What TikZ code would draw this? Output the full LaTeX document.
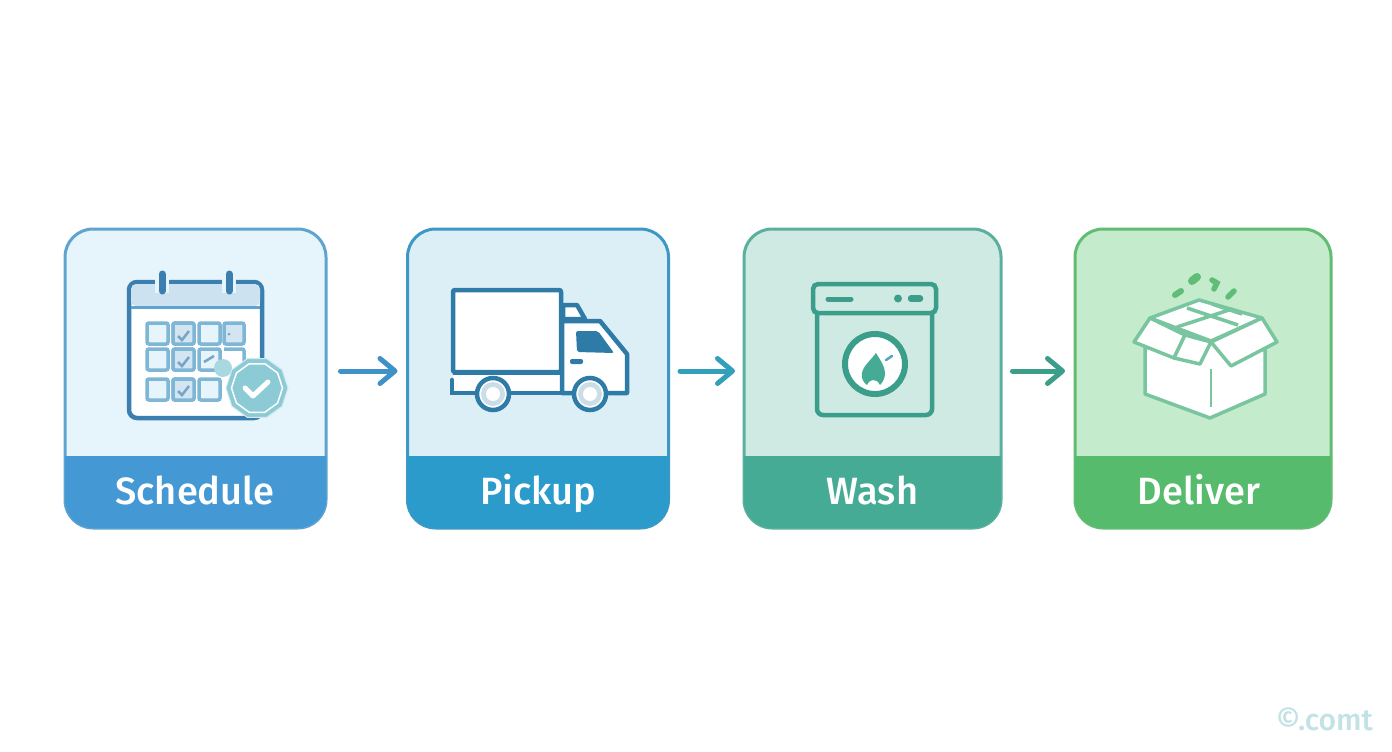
\documentclass[tikz,border=0pt]{standalone}
\usepackage{fontspec}
\usepackage{xcolor}
\usepackage{tikz}
\usetikzlibrary{arrows.meta,shapes.geometric}
\setmainfont{Open Sans}
\newfontfamily\cardfont{Fira Sans Medium}
\definecolor{schedline}{HTML}{5FA3D0}
\definecolor{schedfill}{HTML}{E6F4FB}
\definecolor{schedband}{HTML}{4499D4}
\definecolor{pickline}{HTML}{3F97C4}
\definecolor{pickfill}{HTML}{DCEFF7}
\definecolor{pickband}{HTML}{2B9BCC}
\definecolor{washline}{HTML}{5BB09D}
\definecolor{washfill}{HTML}{CFEAE3}
\definecolor{washband}{HTML}{45AB95}
\definecolor{delivline}{HTML}{62BD72}
\definecolor{delivfill}{HTML}{C4EBCB}
\definecolor{delivband}{HTML}{57BB6D}
\definecolor{calink}{HTML}{3B7FB0}
\definecolor{cellink}{HTML}{7FB6D6}
\definecolor{badgefill}{HTML}{8CCBD6}
\definecolor{truckink}{HTML}{2F7BA8}
\definecolor{washink}{HTML}{3B9E8B}
\definecolor{boxink}{HTML}{78C5A0}
\tikzset{
  card/.style={draw, rectangle, rounded corners=28pt, line width=3pt, outer sep=0pt, minimum height=299pt},
  cardtext/.style={text=white, anchor=base, font=\cardfont\fontsize{38}{38}\selectfont},
  flow/.style={line width=5pt, line cap=round, -{Straight Barb[length=15pt,width=25pt,round]}},
  cell/.style={draw=cellink, line width=3.5pt, rounded corners=2pt},
  tick/.style={line width=2.5pt, draw=calink!70}
}

\begin{document}
\begin{tikzpicture}[x=1pt,y=-1pt]
    \useasboundingbox (0,0) rectangle (1392,752);
    \fill[white] (0,0) rectangle (1392,752);

    % step cards
    \node[card, draw=schedline, fill=schedfill, minimum width=261pt] (sched) at (195.5,378.5) {};
    \node[card, draw=pickline, fill=pickfill, minimum width=261pt] (pick) at (538,378.5) {};
    \node[card, draw=washline, fill=washfill, minimum width=257pt] (wash) at (872.5,378.5) {};
    \node[card, draw=delivline, fill=delivfill, minimum width=256pt] (deliv) at (1203,378.5) {};

    \fill[schedband] (sched.west |- 0,456) [rounded corners=28pt] -- (sched.south west) -- (sched.south east) [sharp corners] -- (sched.east |- 0,456) -- cycle;
    \fill[pickband] (pick.west |- 0,456) [rounded corners=28pt] -- (pick.south west) -- (pick.south east) [sharp corners] -- (pick.east |- 0,456) -- cycle;
    \fill[washband] (wash.west |- 0,456) [rounded corners=28pt] -- (wash.south west) -- (wash.south east) [sharp corners] -- (wash.east |- 0,456) -- cycle;
    \fill[delivband] (deliv.west |- 0,456) [rounded corners=28pt] -- (deliv.south west) -- (deliv.south east) [sharp corners] -- (deliv.east |- 0,456) -- cycle;

    \node[cardtext] (schedtext) at (195,504.5) {Schedule};
    \node[cardtext] (picktext) at (538,504.5) {Pickup};
    \node[cardtext] (washtext) at (872.5,504.5) {Wash};
    \node[cardtext] (delivtext) at (1199,504.5) {Deliver};

    % arrows between cards
    \draw[flow, draw=schedband!70!calink] ([xshift=14.5pt,yshift=7.5pt]sched.east) -- ([xshift=-10pt,yshift=7.5pt]pick.west);
    \draw[flow, draw=pickband!70!washband] ([xshift=11.5pt,yshift=7.5pt]pick.east) -- ([xshift=-9pt,yshift=7.5pt]wash.west);
    \draw[flow, draw=washink] ([xshift=11.5pt,yshift=7.5pt]wash.east) -- ([xshift=-10pt,yshift=7.5pt]deliv.west);

    % calendar
    \draw[calink, line width=4.5pt, fill=white, rounded corners=8pt] (129,282) rectangle (262,418);
    \fill[calink!15!schedfill, rounded corners=5pt] (131,284) rectangle (260,306);
    \draw[schedline, line width=3pt] (131,307) -- (260,307);
    \draw[schedfill, line width=14pt] (162,277) -- (162,293);
    \draw[schedfill, line width=14pt] (229,277) -- (229,293);
    \draw[calink, line width=7pt, line cap=round] (162,274) -- (162,291);
    \draw[calink, line width=7pt, line cap=round] (229,274) -- (229,291);
    \foreach \cx in {147,173,199} {
      \foreach \cy in {323,349,379} {
        \draw[cell, fill=schedfill] (\cx,\cy) rectangle +(21,21);
      }
    }
    \draw[cell, fill=cellink!35] (224,323) rectangle +(20,21);
    \draw[cell, fill=cellink!35] (173,323) rectangle +(21,21);
    \draw[cell, fill=cellink!35] (173,349) rectangle +(21,21);
    \draw[cell, fill=cellink!35] (173,379) rectangle +(21,21);
    \draw[tick] (178,336) -- (182,340) -- (189,331);
    \draw[tick] (178,362) -- (182,366) -- (189,357);
    \draw[tick] (178,391) -- (182,395) -- (189,386);
    \draw[tick] (204,362) -- (214,356);
    \draw[cell] (224,349) -- (244,349) -- (244,366);
    \fill[calink!70] (229,334) circle (1.5pt);
    \fill[badgefill!75!white] (223,368) circle (9pt);
    \node[regular polygon, regular polygon sides=10, fill=badgefill, draw=white!60!badgefill, line width=1pt, minimum size=62pt, inner sep=0pt] (badge) at (257,388) {};
    \node[regular polygon, regular polygon sides=10, draw=white, line width=1.5pt, minimum size=51pt, inner sep=0pt] (badgein) at (257,388) {};
    \draw[white, line width=5pt, line cap=round, line join=round] (245,388) -- (253,396) -- (268,382);

    % truck
    \fill[white] (453,375) rectangle (565,392);
    \draw[truckink, line width=4.5pt, line cap=round, line join=round, fill=white] (563,305) -- (577,305) -- (585,319) -- (563,319) -- cycle;
    \draw[truckink, line width=4.5pt, line join=round, fill=white] (562,321) -- (600,321) -- (627,354) -- (627,393) -- (562,393) -- cycle;
    \draw[truckink, line width=4.5pt, line cap=round] (452,380) -- (452,393) -- (565,393);
    \draw[truckink, line width=4.5pt, fill=white, rounded corners=2pt] (453,290) rectangle (561,372);
    \draw[truckink, line width=4.5pt] (453,373) -- (561,373);
    \fill[truckink, rounded corners=2pt] (576,331) -- (598,331) -- (614,353) -- (577,352) -- cycle;
    \fill[truckink, rounded corners=2pt] (570,359) rectangle (583,364);
    \draw[truckink, line width=4.5pt, fill=white] (493,394) circle (16pt);
    \fill[gray!30!pickline!30!white] (493,394) circle (12pt);
    \fill[white] (493,394) circle (7pt);
    \draw[truckink, line width=4.5pt, fill=white] (590,394) circle (16pt);
    \fill[gray!30!pickline!30!white] (590,394) circle (12pt);
    \fill[white] (590,394) circle (7pt);

    % washer
    \draw[washink, line width=4.5pt, rounded corners=6pt] (817,313) -- (817,415) -- (932,415) -- (932,313);
    \draw[washink, line width=4.5pt, rounded corners=5pt] (813,313) -- (813,284) -- (936,284) -- (936,313) -- cycle;
    \draw[washink, line width=5pt, line cap=round] (828,299) -- (851,299);
    \fill[washink] (898,298.5) circle (4pt);
    \draw[washink, line width=6.5pt, line cap=round] (911,298.5) -- (920,298.5);
    \draw[washink, line width=6pt, fill=white] (875,364) circle (30pt);
    \fill[washband] (876,353) .. controls (880,360) and (885,366) .. (885,373) .. controls (885,378) and (883,382) .. (880,385) .. controls (878,381) and (876,380) .. (873,380) .. controls (871,380) and (869,381) .. (867,385) .. controls (863,382) and (861,378) .. (862,373) .. controls (863,366) and (871,360) .. (876,353) -- cycle;
    \draw[schedline!60!washband, line width=2.5pt, line cap=round] (886,360) -- (892,356);

    % box
    \draw[boxink, line width=3.5pt, line join=round, fill=white] (1145,348) -- (1145,394) -- (1210,418) -- (1265,394) -- (1265,350) -- (1211,341) -- cycle;
    \draw[boxink, line width=2.5pt] (1211,369) -- (1211,407);
    \draw[boxink, line width=3.5pt, line join=round, fill=white] (1150,318) -- (1199,300) -- (1262,318) -- (1211,341) -- cycle;
    \draw[boxink, line width=3.5pt, line join=round, fill=white] (1134,342) -- (1150,318) -- (1185,335) -- (1174,358) -- cycle;
    \draw[boxink, line width=3.5pt, line join=round, fill=white] (1185,335) -- (1211,342) -- (1200,364) -- (1174,358) -- cycle;
    \draw[boxink, line width=3.5pt, line join=round, fill=white] (1211,342) -- (1262,318) -- (1277,342) -- (1231,366) -- cycle;
    \draw[boxink, line width=3.5pt] (1177,327) -- (1232,309);
    \draw[boxink, line width=3.5pt] (1187,308) -- (1238,325);
    \draw[boxink, line width=3.5pt] (1212,304) -- (1242,314);
    \draw[delivband!80!boxink, line width=6pt, line cap=round] (1175,295) -- (1181,291);
    \draw[delivband!80!boxink, line width=8pt, line cap=round] (1192,281) -- (1197,277);
    \draw[delivband!80!boxink, line width=5.5pt, line cap=round] (1212,280) -- (1217,283) -- (1214,289);
    \draw[delivband!80!boxink, line width=5.5pt, line cap=round] (1228,297) -- (1234,291);

    \node[text=pickfill!80!washline, font=\cardfont\fontsize{30}{30}\selectfont, inner sep=0pt] (wmark) at (1324.5,719) {©.comt};
\end{tikzpicture}
\end{document}
